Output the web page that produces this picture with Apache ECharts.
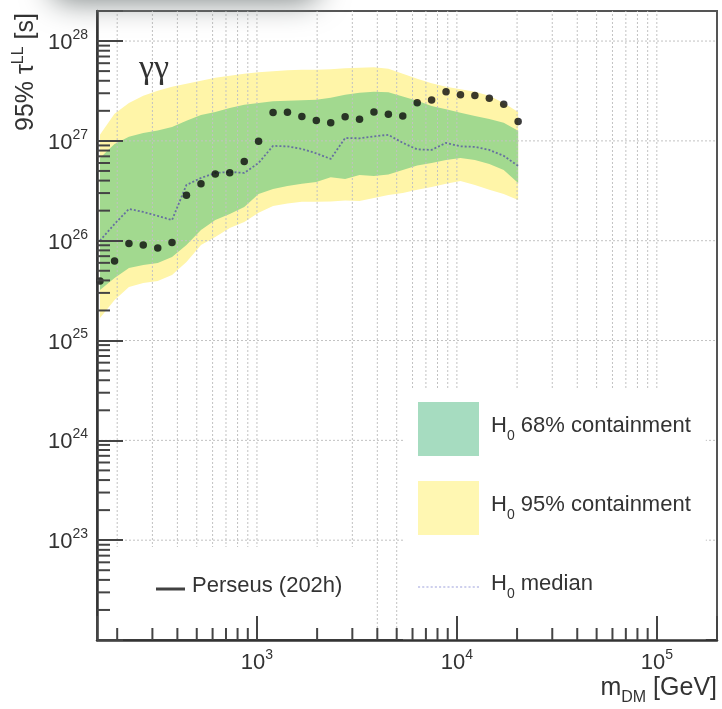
<!DOCTYPE html>
<html><head><meta charset="utf-8">
<script src="https://cdn.jsdelivr.net/npm/echarts@6/dist/echarts.min.js"></script>
<style>html,body{margin:0;padding:0;background:#fff}#c{width:722px;height:709px}</style>
</head><body><div id="c"></div>
<script>
// ---- data ----
const MASS_GEV = [164, 194, 229, 270, 319, 376, 444, 525, 619, 731, 864, 1019, 1204, 1421, 1678, 1981, 2339, 2761, 3259, 3848, 4543, 5363, 6332, 7475, 8828, 10423, 12305, 14529, 17152, 20250];
const TAU_PERSEUS = [3.95e25, 6.27e25, 9.35e25, 9.08e25, 8.47e25, 9.6e25, 2.86e26, 3.71e26, 4.65e26, 4.79e26, 6.2e26, 9.9e26, 1.92e27, 1.94e27, 1.75e27, 1.6e27, 1.52e27, 1.74e27, 1.65e27, 1.95e27, 1.85e27, 1.78e27, 2.41e27, 2.56e27, 3.1e27, 2.89e27, 2.84e27, 2.68e27, 2.33e27, 1.56e27];
const TAU_MEDIAN = [1.0e26, 1.47e26, 2.08e26, 1.94e26, 1.77e26, 1.61e26, 3.62e26, 4.25e26, 4.77e26, 4.89e26, 4.77e26, 6.01e26, 8.91e26, 8.81e26, 8.31e26, 7.5e26, 6.6e26, 1.07e27, 1.06e27, 1.11e27, 1.15e27, 9.55e26, 8.22e26, 8.12e26, 9.55e26, 8.81e26, 8.71e26, 8.12e26, 7.08e26, 5.61e26];
const HI95 = [1.15e27, 1.87e27, 2.40e27, 2.83e27, 3.17e27, 3.48e27, 3.73e27, 4.0e27, 4.29e27, 4.49e27, 4.70e27, 4.86e27, 4.98e27, 5.09e27, 5.15e27, 5.15e27, 5.21e27, 5.34e27, 5.40e27, 5.46e27, 5.27e27, 4.70e27, 4.19e27, 3.77e27, 3.48e27, 3.29e27, 3.10e27, 2.83e27, 2.40e27, 1.95e27];
const HI68 = [6.75e26, 9.33e26, 1.10e27, 1.20e27, 1.27e27, 1.38e27, 1.59e27, 1.82e27, 1.95e27, 2.14e27, 2.30e27, 2.40e27, 2.49e27, 2.52e27, 2.55e27, 2.58e27, 2.70e27, 2.89e27, 3.03e27, 3.10e27, 3.07e27, 2.79e27, 2.52e27, 2.24e27, 2.07e27, 1.91e27, 1.78e27, 1.66e27, 1.52e27, 1.26e27];
const LO68 = [3.20e25, 4.22e25, 5.32e25, 5.70e25, 5.97e25, 6.87e25, 9.06e25, 1.28e26, 1.61e26, 1.85e26, 2.18e26, 2.94e26, 3.30e26, 3.54e26, 3.71e26, 3.88e26, 4.31e26, 4.16e26, 4.56e26, 4.46e26, 4.61e26, 5.12e26, 5.68e26, 6.01e26, 6.44e26, 6.75e26, 6.44e26, 5.88e26, 5.12e26, 3.79e26];
const LO95 = [1.68e25, 2.54e25, 3.44e25, 3.77e25, 3.94e25, 4.53e25, 6.11e25, 9.06e25, 1.09e26, 1.34e26, 1.54e26, 1.90e26, 2.23e26, 2.36e26, 2.45e26, 2.45e26, 2.47e26, 2.53e26, 2.50e26, 2.68e26, 2.87e26, 3.01e26, 3.23e26, 3.46e26, 3.71e26, 3.97e26, 3.62e26, 3.23e26, 2.94e26, 2.56e26];

// axis ranges and tick decades
const X_MIN = 158.5, X_MAX = 2e5;
const Y_MIN = 1e22, Y_MAX = 2e28;
const X_DECADES = [100, 1000, 10000, 100000];
const Y_DECADES = [1e22, 1e23, 1e24, 1e25, 1e26, 1e27, 1e28];
const MINOR_STEPS = [2, 3, 4, 5, 6, 7, 8, 9];

const FONT = 'Liberation Sans';
const TXT = '#333';
const X_GRID = [], X_MINOR = [], Y_MINOR = [];
X_DECADES.forEach(d => {
  [1].concat(MINOR_STEPS).forEach(m => {
    const v = d * m;
    if (v > X_MIN * 1.001 && v < X_MAX * 0.999) { X_GRID.push(v); if (m !== 1) X_MINOR.push(v); }
  });
});
Y_DECADES.forEach(d => MINOR_STEPS.forEach(m => { const v = d * m; if (v < Y_MAX * 0.999) Y_MINOR.push(v); }));
const Y_GRID = Y_DECADES.filter(v => v > Y_MIN);

const chart = echarts.init(document.getElementById('c'), null, {renderer: 'canvas'});

function makeLabel(lo, hi) {
  return function (v) {
    if (v <= lo * 1.001 || v >= hi * 0.999) return '';
    const l = Math.log10(v), e = Math.round(l);
    if (Math.abs(l - e) > 1e-6) return '';
    return '{b|10}{s|' + e + '}';
  };
}
const labelRich = {
  b: {fontFamily: FONT, fontSize: 22, lineHeight: 26, verticalAlign: 'bottom', color: TXT},
  s: {fontFamily: FONT, fontSize: 14, lineHeight: 14, verticalAlign: 'top', color: TXT}
};
function legendRich(gap) {
  return {
    g: {width: gap, lineHeight: 28, verticalAlign: 'top'},
    h: {fontFamily: FONT, fontSize: 22, lineHeight: 28, verticalAlign: 'top', color: TXT},
    u: {fontFamily: FONT, fontSize: 14, lineHeight: 14, verticalAlign: 'bottom', color: TXT}
  };
}
function bandRender(lo, hi, color) {
  return function (params, api) {
    if (params.dataIndex !== 0) return null;
    const pts = [];
    for (let i = 0; i < MASS_GEV.length; i++) pts.push(api.coord([MASS_GEV[i], hi[i]]));
    for (let i = MASS_GEV.length - 1; i >= 0; i--) pts.push(api.coord([MASS_GEV[i], lo[i]]));
    return {type: 'polygon', shape: {points: pts}, style: {fill: color}};
  };
}
let dashPath = 'path://';
for (let k = 0; k < 15; k++) dashPath += 'M' + (4 * k) + ',0h2v1h-2z';

const legendNames = {
  'H0 68% containment': '{g| }{h|H}{u|0}{h| 68% containment}',
  'H0 95% containment': '{g| }{h|H}{u|0}{h| 95% containment}',
  'H0 median': '{g| }{h|H}{u|0}{h| median}',
  'Perseus (202h)': '{g| }{h|Perseus (202h)}'
};

const option = {
  animation: false,
  backgroundColor: '#fff',
  grid: {left: 97, right: 5, top: 11, bottom: 69, show: true, borderColor: '#555', borderWidth: 2, outerBoundsMode: 'none'},
  xAxis: {
    type: 'log', logBase: 10, min: X_MIN, max: X_MAX, z: 10,
    axisLine: {show: true, onZero: false, lineStyle: {color: '#333', width: 2.5}},
    axisTick: {show: true, inside: true, length: 24, lineStyle: {color: '#444', width: 2}},
    axisLabel: {margin: 8, formatter: makeLabel(X_MIN, X_MAX), rich: labelRich},
    splitLine: {show: false}, minorTick: {show: false}
  },
  yAxis: {
    type: 'log', logBase: 10, min: Y_MIN, max: Y_MAX, z: 10,
    axisLine: {show: true, onZero: false, lineStyle: {color: '#333', width: 2.5}},
    axisTick: {show: true, inside: true, length: 26, lineStyle: {color: '#444', width: 2}},
    axisLabel: {margin: 9, formatter: makeLabel(Y_MIN, Y_MAX), rich: labelRich},
    splitLine: {show: false}, minorTick: {show: false}
  },
  legend: [
    {
      data: [{name: 'Perseus (202h)', icon: 'rect', itemStyle: {color: '#111'}}],
      left: 97, top: 547, padding: [28, 30, 41, 59], backgroundColor: '#fff', z: 4,
      itemWidth: 29, itemHeight: 3, selectedMode: false,
      formatter: n => legendNames[n], textStyle: {rich: legendRich(2)}
    },
    {
      data: [
        {name: 'H0 68% containment', icon: 'rect', itemStyle: {color: '#a6dcc0'}},
        {name: 'H0 95% containment', icon: 'rect', itemStyle: {color: '#fff7b2'}}
      ],
      orient: 'vertical', left: 403, top: 388, padding: [14, 15, 105, 15], backgroundColor: '#fff', z: 4,
      itemWidth: 61, itemHeight: 54, itemGap: 25, selectedMode: false,
      formatter: n => legendNames[n], textStyle: {rich: legendRich(7)}
    },
    {
      data: [{name: 'H0 median', icon: dashPath, itemStyle: {color: '#9ea2dc'}}],
      left: 418, top: 573, padding: 0, z: 5,
      itemWidth: 61, itemHeight: 2, selectedMode: false,
      formatter: n => legendNames[n], textStyle: {rich: legendRich(7)}
    }
  ],
  graphic: [
    {type: 'rect', z: 20, silent: true, shape: {x: 50, y: -50, width: 270, height: 50, r: 20},
     style: {fill: '#939a9a', shadowBlur: 30, shadowOffsetY: 2, shadowColor: 'rgba(120,128,128,0.95)'}},
    {type: 'text', x: 25, y: 13, rotation: Math.PI / 2, z: 10,
     style: {text: '{b|95% τ}{s|LL}{b| [s]}', align: 'right', verticalAlign: 'middle',
       rich: {b: {fontFamily: FONT, fontSize: 25, lineHeight: 28, verticalAlign: 'bottom', fill: TXT},
              s: {fontFamily: FONT, fontSize: 16, lineHeight: 16, verticalAlign: 'top', fill: TXT}}}},
    {type: 'text', x: 717, y: 691, z: 10,
     style: {text: '{b|m}{s|DM}{b| [GeV]}', align: 'right', verticalAlign: 'middle',
       rich: {b: {fontFamily: FONT, fontSize: 25, lineHeight: 30, verticalAlign: 'top', fill: TXT},
              s: {fontFamily: FONT, fontSize: 16, lineHeight: 16, verticalAlign: 'bottom', fill: TXT}}}},
    {type: 'text', x: 139, y: 69, z: 10,
     style: {text: 'γγ', fontFamily: 'Liberation Serif', fontSize: 34, fill: TXT, align: 'left', verticalAlign: 'middle'}}
  ],
  series: [
    {name: 'H0 95% containment', type: 'custom', z: 1, silent: true,
     data: MASS_GEV.map((m, i) => [m, LO95[i], HI95[i]]), encode: {x: 0, y: [1, 2]},
     renderItem: bandRender(LO95, HI95, '#fff5a8')},
    {name: 'H0 68% containment', type: 'custom', z: 1, silent: true,
     data: MASS_GEV.map((m, i) => [m, LO68[i], HI68[i]]), encode: {x: 0, y: [1, 2]},
     renderItem: bandRender(LO68, HI68, '#a2d98f')},
    {name: '_vgrid', type: 'custom', z: 2, silent: true,
     data: X_GRID.map(v => [v, Y_MIN]),
     renderItem: (p, api) => {
       const a = api.coord([api.value(0), Y_MIN]), b = api.coord([api.value(0), Y_MAX]);
       return {type: 'line', shape: {x1: a[0], y1: a[1], x2: b[0], y2: b[1]}, style: {stroke: '#c2c2c2', lineWidth: 1, lineDash: [2, 2]}};
     }},
    {name: '_hgrid', type: 'custom', z: 2, silent: true,
     data: Y_GRID.map(v => [X_MIN, v]),
     renderItem: (p, api) => {
       const a = api.coord([X_MIN, api.value(1)]), b = api.coord([X_MAX, api.value(1)]);
       return {type: 'line', shape: {x1: a[0], y1: a[1], x2: b[0], y2: b[1]}, style: {stroke: '#c2c2c2', lineWidth: 1, lineDash: [2, 2]}};
     }},
    {name: 'H0 median', type: 'line', z: 3, symbol: 'none', silent: true,
     data: MASS_GEV.map((m, i) => [m, TAU_MEDIAN[i]]),
     lineStyle: {color: '#66709f', width: 1.8, type: [2, 2]}},
    {name: 'Perseus (202h)', type: 'scatter', z: 3, silent: true, symbol: 'circle', symbolSize: 7.5,
     data: MASS_GEV.map((m, i) => [m, TAU_PERSEUS[i]]), itemStyle: {color: '#0a0a0a'}},
    {name: '_xminor', type: 'custom', z: 12, silent: true,
     data: X_MINOR.map(v => [v, Y_MIN]),
     renderItem: (p, api) => {
       const a = api.coord([api.value(0), Y_MIN]);
       return {type: 'line', shape: {x1: a[0], y1: a[1], x2: a[0], y2: a[1] - 12}, style: {stroke: '#444', lineWidth: 2}};
     }},
    {name: '_yminor', type: 'custom', z: 12, silent: true,
     data: Y_MINOR.map(v => [X_MIN, v]),
     renderItem: (p, api) => {
       const a = api.coord([X_MIN, api.value(1)]);
       return {type: 'line', shape: {x1: a[0], y1: a[1], x2: a[0] + 13, y2: a[1]}, style: {stroke: '#444', lineWidth: 2}};
     }}
  ]
};
chart.setOption(option);
</script>
</body></html>
